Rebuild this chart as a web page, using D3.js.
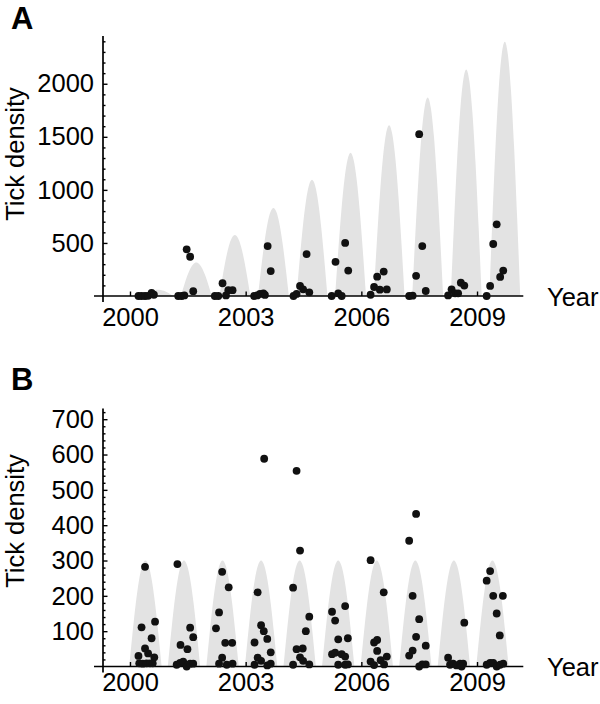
<!DOCTYPE html>
<html>
<head>
<meta charset="utf-8">
<script src="https://cdn.jsdelivr.net/npm/d3@7"></script>
<style>
  body { margin: 0; background: #fff; }
  svg { display: block; font-family: "Liberation Sans", Arial, sans-serif; }
</style>
</head>
<body>
<script>
// Seasons and model peaks (grey bumps)
const seasons = [2000, 2001, 2002, 2003, 2004, 2005, 2006, 2007, 2008, 2009];
const peaksA = [60, 315, 575, 830, 1095, 1350, 1610, 1870, 2135, 2395];
const peaksB = [300, 300, 300, 300, 300, 300, 300, 300, 300, 300];
const peakOffsetA = 0.72, peakOffsetB = 0.40;

// Shape of one seasonal bump (relative offset, fraction of peak)
const bumpShape = [[-1, 0], [-0.8, 0.31], [-0.6, 0.59], [-0.4, 0.81], [-0.2, 0.95], [0, 1],
  [0.2, 0.95], [0.4, 0.81], [0.6, 0.59], [0.8, 0.31], [1, 0]];

// Observed densities [year, value]
const pointsA = [
  [2000.22, 0], [2000.30, 0], [2000.39, 0], [2000.47, 2], [2000.56, 30], [2000.62, 12],
  [2001.25, 0], [2001.34, 0], [2001.41, 5], [2001.47, 440], [2001.56, 370], [2001.64, 45],
  [2002.20, 0], [2002.29, 0], [2002.40, 120], [2002.49, 5], [2002.55, 55], [2002.66, 55],
  [2003.22, 0], [2003.30, 5], [2003.37, 20], [2003.46, 25], [2003.50, 10], [2003.57, 470], [2003.65, 235],
  [2004.24, 0], [2004.32, 20], [2004.41, 95], [2004.49, 63], [2004.58, 395], [2004.65, 35],
  [2005.23, 0], [2005.33, 322], [2005.40, 25], [2005.49, 0], [2005.58, 500], [2005.66, 240],
  [2006.24, 12], [2006.33, 85], [2006.41, 182], [2006.48, 60], [2006.58, 230], [2006.66, 62],
  [2007.24, 0], [2007.33, 3], [2007.42, 190], [2007.50, 1525], [2007.58, 470], [2007.67, 47],
  [2008.25, 5], [2008.34, 63], [2008.43, 25], [2008.51, 25], [2008.58, 125], [2008.67, 98],
  [2009.25, 0], [2009.34, 95], [2009.42, 490], [2009.51, 675], [2009.60, 180], [2009.68, 240]
];

const pointsB = [
  [2000.39, 282], [2000.22, 30], [2000.30, 111], [2000.39, 51], [2000.47, 37], [2000.56, 80],
  [2000.65, 127], [2000.63, 26], [2000.24, 9], [2000.33, 8], [2000.43, 9], [2000.52, 9], [2000.59, 9],
  [2001.23, 290], [2001.31, 61], [2001.49, 49], [2001.56, 110], [2001.64, 83],
  [2001.21, 5], [2001.30, 10], [2001.38, 14], [2001.47, 0], [2001.56, 8], [2001.64, 8],
  [2002.39, 268], [2002.56, 224], [2002.31, 153], [2002.23, 108], [2002.47, 67], [2002.65, 67],
  [2002.39, 25], [2002.31, 8], [2002.51, 5], [2002.66, 8],
  [2003.31, 210], [2003.40, 117], [2003.47, 100], [2003.56, 78], [2003.65, 40], [2003.23, 68],
  [2003.31, 25], [2003.40, 16], [2003.48, 588], [2003.23, 5], [2003.56, 3], [2003.65, 8],
  [2004.32, 554], [2004.41, 328], [2004.23, 223], [2004.65, 141], [2004.56, 100], [2004.32, 49],
  [2004.48, 51], [2004.41, 26], [2004.49, 16], [2004.23, 5], [2004.65, 6],
  [2005.24, 155], [2005.32, 130], [2005.58, 171], [2005.40, 77], [2005.65, 80], [2005.24, 35],
  [2005.32, 39], [2005.49, 35], [2005.58, 28], [2005.40, 5], [2005.58, 5], [2005.65, 6],
  [2006.24, 301], [2006.58, 210], [2006.33, 68], [2006.41, 75], [2006.41, 44], [2006.24, 14],
  [2006.33, 4], [2006.50, 18], [2006.59, 6], [2006.66, 28],
  [2007.42, 432], [2007.24, 356], [2007.33, 200], [2007.50, 134], [2007.42, 84], [2007.67, 59],
  [2007.33, 45], [2007.24, 31], [2007.50, 0], [2007.58, 6], [2007.67, 6],
  [2008.67, 124], [2008.25, 25], [2008.30, 5], [2008.38, 8], [2008.47, 3], [2008.56, 8],
  [2008.64, 8], [2008.60, 0],
  [2009.34, 270], [2009.25, 243], [2009.42, 200], [2009.67, 200], [2009.51, 150], [2009.59, 88],
  [2009.25, 5], [2009.34, 10], [2009.42, 10], [2009.51, 0], [2009.60, 5], [2009.68, 8]
];

// Axis ticks
const xTicks = [2000, 2003, 2006, 2009];
const yMajorA = [500, 1000, 1500, 2000];
const yMinorA = d3.range(100, 2500, 100).filter(v => v % 500 !== 0);
const yMajorB = [100, 200, 300, 400, 500, 600, 700];
const yMinorB = d3.range(20, 740, 20).filter(v => v % 100 !== 0);

const width = 600, height = 704;
const fontSize = "25.5px";
const svg = d3.select("body").append("svg")
  .attr("width", width)
  .attr("height", height);

const xScale = d3.scaleLinear().domain([1999.3, 2010.2]).range([103, 523.3]);

drawPanel({
  letter: "A", letterY: 29,
  yDomain: [0, 2450], yRange: [296, 36],
  peaks: peaksA, peakOffset: peakOffsetA, halfWidth: 0.40,
  points: pointsA, yMajor: yMajorA, yMinor: yMinorA,
  labelPad: 12, yearY: 306, titleY: 154
});

drawPanel({
  letter: "B", letterY: 390,
  yDomain: [0, 730], yRange: [666.5, 408.6],
  peaks: peaksB, peakOffset: peakOffsetB, halfWidth: 0.42,
  points: pointsB, yMajor: yMajorB, yMinor: yMinorB,
  labelPad: 6, yearY: 676, titleY: 521
});

function drawPanel(cfg) {
  const y = d3.scaleLinear().domain(cfg.yDomain).range(cfg.yRange);
  const g = svg.append("g");
  const y0 = y(0);

  // grey bumps
  const area = d3.area()
    .x(d => xScale(d[0]))
    .y0(y0)
    .y1(d => y(d[1]))
    .curve(d3.curveMonotoneX);

  seasons.forEach((yr, i) => {
    const c = yr + cfg.peakOffset;
    const bump = bumpShape.map(s => [c + s[0] * cfg.halfWidth, s[1] * cfg.peaks[i]]);
    g.append("path")
      .attr("d", area(bump))
      .attr("fill", "#e3e3e3");
  });

  // axes lines
  g.append("line")
    .attr("x1", xScale.range()[0] - 9).attr("x2", xScale.range()[1])
    .attr("y1", y0).attr("y2", y0)
    .attr("stroke", "#000").attr("stroke-width", 1.7);
  g.append("line")
    .attr("x1", xScale.range()[0]).attr("x2", xScale.range()[0])
    .attr("y1", y0 + 6).attr("y2", cfg.yRange[1])
    .attr("stroke", "#000").attr("stroke-width", 1.7);

  // y ticks
  const yAxis = d3.axisLeft(y).tickValues(cfg.yMajor).tickSize(-4.5).tickPadding(9)
    .tickFormat(d3.format("d"));
  const gy = g.append("g")
    .attr("transform", `translate(${xScale.range()[0]},0)`)
    .call(yAxis);
  const yMinor = d3.axisLeft(y).tickValues(cfg.yMinor).tickSize(-2.5).tickFormat("");
  const gym = g.append("g")
    .attr("transform", `translate(${xScale.range()[0]},0)`)
    .call(yMinor);

  // x ticks
  const xAxis = d3.axisBottom(xScale).tickValues(xTicks).tickSize(-4.5)
    .tickPadding(cfg.labelPad).tickFormat(d3.format("d"));
  const gx = g.append("g")
    .attr("transform", `translate(0,${y0})`)
    .call(xAxis);

  [gy, gym, gx].forEach(a => {
    a.select(".domain").remove();
    a.selectAll(".tick line").attr("stroke", "#000").attr("stroke-width", 1.4);
    a.selectAll("text").attr("fill", "#000").style("font-size", fontSize)
      .style("font-family", "'Liberation Sans', Arial, sans-serif");
  });

  // dots
  g.selectAll("circle.pt").data(cfg.points).enter()
    .append("circle")
    .attr("class", "pt")
    .attr("cx", d => xScale(d[0]))
    .attr("cy", d => y(d[1]))
    .attr("r", 3.9)
    .attr("fill", "#111");

  // labels
  g.append("text")
    .attr("transform", `translate(24,${cfg.titleY}) rotate(-90)`)
    .attr("text-anchor", "middle")
    .style("font-size", fontSize)
    .text("Tick density");

  g.append("text")
    .attr("x", 547).attr("y", cfg.yearY)
    .style("font-size", fontSize)
    .text("Year");

  g.append("text")
    .attr("x", 11).attr("y", cfg.letterY)
    .style("font-size", "31px")
    .style("font-weight", "bold")
    .text(cfg.letter);
}
</script>
</body>
</html>
